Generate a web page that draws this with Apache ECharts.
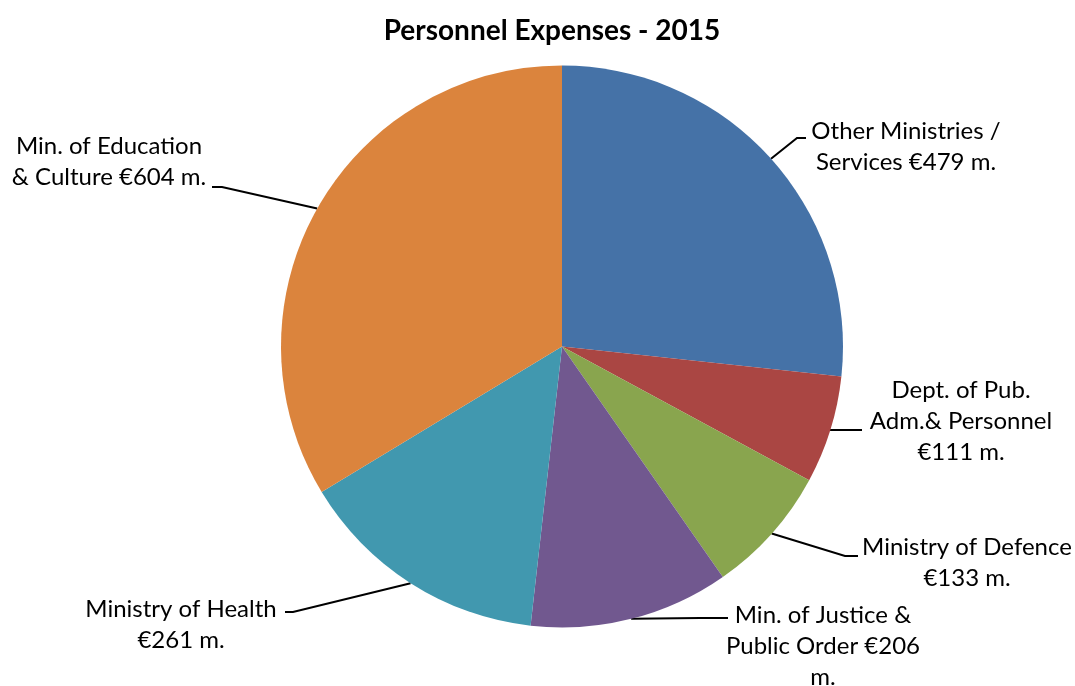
<!DOCTYPE html>
<html>
<head>
<meta charset="utf-8">
<script src="https://cdn.jsdelivr.net/npm/echarts@6/dist/echarts.min.js"></script>
<style>
  html, body { margin: 0; padding: 0; background: #fff; }
  #chart { width: 1075px; height: 686px; }
</style>
</head>
<body>
<div id="chart"></div>
<script>
// data
const categories = ['Other Ministries / Services', 'Dept. of Pub. Adm.& Personnel', 'Ministry of Defence',
  'Min. of Justice & Public Order', 'Ministry of Health', 'Min. of Education & Culture'];
const values = [479, 111, 133, 206, 261, 604];
const colors = ['#4572A7', '#AA4643', '#89A54E', '#71588F', '#4198AF', '#DB843D'];
// label text, one entry per line, {v} = value
const labelLines = [
  ['Other Ministries /', 'Services €{v} m.'],
  ['Dept. of Pub.', 'Adm.& Personnel', '€{v} m.'],
  ['Ministry of Defence', '€{v} m.'],
  ['Min. of Justice &', 'Public Order €{v}', 'm.'],
  ['Ministry of Health', '€{v} m.'],
  ['Min. of Education', '& Culture €{v} m.']
];

// label placement: text centre, elbow of leader line, end of leader line
const labelPos = [
  { x: 906, y: 147, elbow: [797, 138], end: [806, 138] },
  { x: 961, y: 421, elbow: [830, 430], end: [862, 430] },
  { x: 967, y: 563, elbow: [845, 556], end: [858, 556] },
  { x: 823, y: 646, elbow: [700, 618], end: [728, 618] },
  { x: 181, y: 625, elbow: [293, 612], end: [285, 612] },
  { x: 109, y: 162, elbow: [222, 187], end: [212, 187] }
];

let chart = echarts.init(document.getElementById('chart'));

let option = {
  animation: false,
  title: {
    text: 'Personnel Expenses - 2015',
    left: 547,
    top: 12,
    textAlign: 'center',
    textStyle: {
      fontFamily: 'Lato',
      fontWeight: 'bold',
      fontSize: 28,
      color: '#000'
    }
  },
  series: [{
    type: 'pie',
    center: [562, 346.5],
    radius: 281,
    startAngle: 90,
    clockwise: true,
    avoidLabelOverlap: false,
    emphasis: { disabled: true },
    itemStyle: { borderWidth: 0 },
    label: {
      show: true,
      position: 'outside',
      fontFamily: 'Lato',
      fontSize: 24,
      lineHeight: 31,
      color: '#000',
      formatter: function (p) {
        return labelLines[p.dataIndex].map(s => s.replace('{v}', p.value)).join('\n');
      }
    },
    labelLine: {
      show: true,
      length: 10,
      length2: 10,
      lineStyle: { color: '#000', width: 2 }
    },
    labelLayout: function (params) {
      const p = labelPos[params.dataIndex];
      const start = params.labelLinePoints ? params.labelLinePoints[0] : p.elbow;
      return {
        x: p.x,
        y: p.y,
        align: 'center',
        verticalAlign: 'middle',
        labelLinePoints: [start, p.elbow, p.end]
      };
    },
    data: categories.map((c, i) => ({
      name: c,
      value: values[i],
      itemStyle: { color: colors[i] }
    }))
  }]
};

chart.setOption(option);
</script>
</body>
</html>
